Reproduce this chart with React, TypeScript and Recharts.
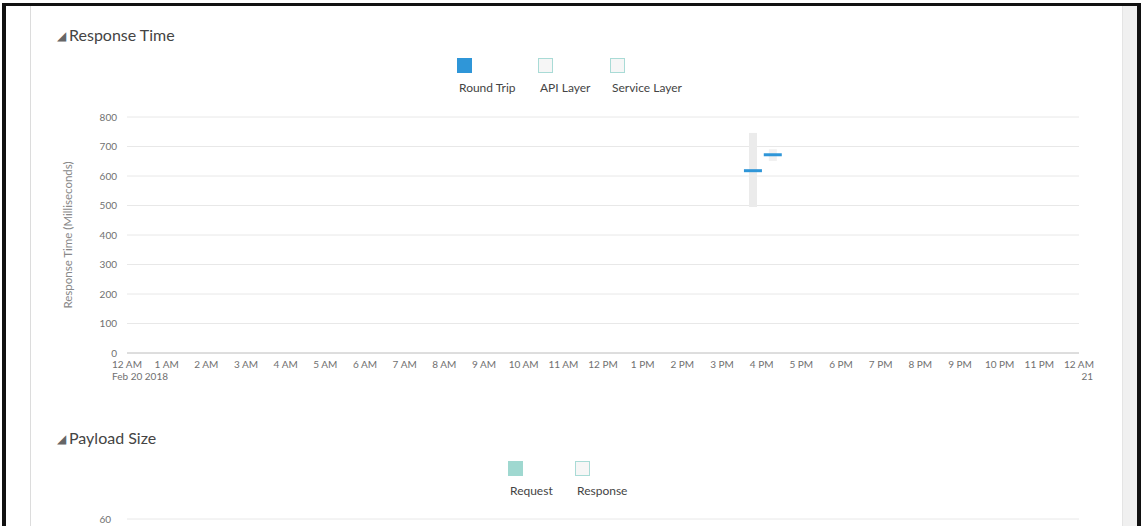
import React from "react";
import {
  ComposedChart,
  Bar,
  Scatter,
  Cell,
  XAxis,
  YAxis,
  CartesianGrid,
} from "recharts";

// time of each sample, in hours since 12 AM Feb 20 2018
const sampleHours = [15.78, 16.28];
const roundTripMs = [618, 672];
const rangeLowMs = [495, 651];
const rangeHighMs = [746, 691];
const rangeColors = ["#ebebeb", "#f1f1f1"];

const hourTicks = [
  0, 1, 2, 3, 4, 5, 6, 7, 8, 9, 10, 11, 12, 13, 14, 15, 16, 17, 18, 19, 20,
  21, 22, 23, 24,
];
const hourLabels = [
  "12 AM", "1 AM", "2 AM", "3 AM", "4 AM", "5 AM", "6 AM", "7 AM", "8 AM",
  "9 AM", "10 AM", "11 AM", "12 PM", "1 PM", "2 PM", "3 PM", "4 PM", "5 PM",
  "6 PM", "7 PM", "8 PM", "9 PM", "10 PM", "11 PM", "12 AM",
];
const dateLabels = ["Feb 20 2018", "21"];

const responseTicks = [0, 100, 200, 300, 400, 500, 600, 700, 800];
// only the top of the payload chart is on screen
const payloadTicks = [60];

const responseLegend = [
  { name: "Round Trip", color: "#2f96d8", hidden: false },
  { name: "API Layer", color: "#a9dbd6", hidden: true },
  { name: "Service Layer", color: "#a9dbd6", hidden: true },
];
const payloadLegend = [
  { name: "Request", color: "#9fd8d0", hidden: false },
  { name: "Response", color: "#a9dbd6", hidden: true },
];

const font = "Lato, 'Noto Sans', sans-serif";
const tickColor = "#707070";

const responseData = sampleHours.map((t, i) => ({
  t,
  range: [rangeLowMs[i], rangeHighMs[i]],
  roundTrip: roundTripMs[i],
}));
// payload values lie below the visible part of the page
const payloadData = sampleHours.map((t) => ({ t }));

function TimeTick(props: any) {
  const { x, y, payload } = props;
  const idx = hourTicks.indexOf(payload.value);
  const label = hourLabels[idx];
  let sub: React.ReactNode = null;
  if (idx === 0) {
    sub = (
      <text x={x - 15} y={y} dy={19} textAnchor="start" fill={tickColor} fontSize={10} fontFamily={font}>
        {dateLabels[0]}
      </text>
    );
  } else if (idx === hourTicks.length - 1) {
    sub = (
      <text x={x + 14} y={y} dy={19} textAnchor="end" fill={tickColor} fontSize={10} fontFamily={font}>
        {dateLabels[1]}
      </text>
    );
  }
  return (
    <g>
      <text x={x} y={y} dy={7} textAnchor="middle" fill={tickColor} fontSize={10} fontFamily={font}>
        {label}
      </text>
      {sub}
    </g>
  );
}

function ValueTick(props: any) {
  const { x, y, payload } = props;
  return (
    <text x={x} y={y} dy={3.5} textAnchor="end" fill={tickColor} fontSize={10} fontFamily={font}>
      {payload.value}
    </text>
  );
}

function YTitle(props: any) {
  const { viewBox } = props;
  const cx = viewBox.x + 72;
  const cy = viewBox.y + viewBox.height / 2;
  return (
    <text
      x={cx}
      y={cy}
      transform={`rotate(-90 ${cx} ${cy})`}
      textAnchor="middle"
      fill="#888"
      fontSize={11.5}
      fontFamily={font}
    >
      Response Time (Milliseconds)
    </text>
  );
}

function Dash(props: any) {
  const { cx, cy } = props;
  return <rect x={cx - 9} y={cy - 1.5} width={18} height={3} fill="#2f96d8" />;
}

function SectionTitle({ text, top }: { text: string; top: number }) {
  return (
    <div
      style={{
        position: "absolute",
        left: 57,
        top,
        fontSize: 16,
        lineHeight: "20px",
        color: "#444",
        fontFamily: font,
        whiteSpace: "nowrap",
      }}
    >
      <span style={{ fontSize: 12, color: "#666", marginRight: 3, position: "relative", top: -1 }}>◢</span>
      {text}
    </div>
  );
}

function LegendItem({ item, left, top }: { item: any; left: number; top: number }) {
  return (
    <div style={{ position: "absolute", left, top }}>
      <div
        style={{
          width: 15,
          height: 15,
          boxSizing: "border-box",
          background: item.hidden ? "#f6f6f6" : item.color,
          border: item.hidden ? `1.5px solid ${item.color}` : "none",
        }}
      />
      <div
        style={{
          position: "absolute",
          left: 2,
          top: 23,
          fontSize: 12,
          lineHeight: "13px",
          color: "#444",
          fontFamily: font,
          whiteSpace: "nowrap",
        }}
      >
        {item.name}
      </div>
    </div>
  );
}

export default function App() {
  return (
    <div
      style={{
        position: "fixed",
        left: 0,
        top: 0,
        width: 1141,
        height: 526,
        background: "#fff",
        overflow: "hidden",
        fontFamily: font,
      }}
    >
      <div style={{ position: "absolute", left: 0, top: 0 }}>
        <ComposedChart
          width={1141}
          height={400}
          data={responseData}
          margin={{ top: 117, right: 62, left: 0, bottom: 17 }}
        >
          <CartesianGrid vertical={false} stroke="#e8e8e8" />
          <XAxis
            dataKey="t"
            type="number"
            domain={[0, 24]}
            ticks={hourTicks}
            interval={0}
            allowDataOverflow
            height={30}
            tickLine={false}
            axisLine={{ stroke: "#c8c8c8" }}
            tick={<TimeTick />}
          />
          <YAxis
            type="number"
            domain={[0, 800]}
            ticks={responseTicks}
            interval={0}
            width={127}
            tickLine={false}
            axisLine={false}
            tickMargin={4}
            tick={<ValueTick />}
            label={<YTitle />}
          />
          <Bar dataKey="range" barSize={8} isAnimationActive={false}>
            {responseData.map((d, i) => (
              <Cell key={i} fill={rangeColors[i]} />
            ))}
          </Bar>
          <Scatter dataKey="roundTrip" shape={<Dash />} isAnimationActive={false} />
        </ComposedChart>
      </div>

      <div style={{ position: "absolute", left: 0, top: 499 }}>
        <ComposedChart
          width={1141}
          height={120}
          data={payloadData}
          margin={{ top: 20, right: 62, left: 0, bottom: 10 }}
        >
          <CartesianGrid vertical={false} stroke="#e8e8e8" />
          <XAxis
            dataKey="t"
            type="number"
            domain={[0, 24]}
            ticks={hourTicks}
            allowDataOverflow
            height={1}
            tick={false}
            tickLine={false}
            axisLine={false}
          />
          <YAxis
            type="number"
            domain={[0, 60]}
            ticks={payloadTicks}
            interval={0}
            allowDataOverflow
            width={127}
            tickLine={false}
            axisLine={false}
            tickMargin={10}
            tick={<ValueTick />}
          />
          <Bar dataKey="request" fill="#9fd8d0" barSize={8} isAnimationActive={false} />
        </ComposedChart>
      </div>

      <SectionTitle text="Response Time" top={25} />
      <LegendItem item={responseLegend[0]} left={457} top={58} />
      <LegendItem item={responseLegend[1]} left={538} top={58} />
      <LegendItem item={responseLegend[2]} left={610} top={58} />

      <SectionTitle text="Payload Size" top={428} />
      <LegendItem item={payloadLegend[0]} left={508} top={461} />
      <LegendItem item={payloadLegend[1]} left={575} top={461} />

      {/* panel divider, scrollbar and window frame */}
      <div style={{ position: "absolute", left: 30, top: 6, width: 1, height: 520, background: "#dcdcdc" }} />
      <div style={{ position: "absolute", left: 1122, top: 6, width: 15, height: 520, background: "#f0f0f0", borderLeft: "1px solid #e4e4e4", boxSizing: "border-box" }} />
      <div style={{ position: "absolute", left: 2, top: 3, width: 1139, height: 3, background: "#111" }} />
      <div style={{ position: "absolute", left: 2, top: 3, width: 4, height: 523, background: "#111" }} />
      <div style={{ position: "absolute", left: 1137, top: 3, width: 4, height: 523, background: "#111" }} />
    </div>
  );
}
